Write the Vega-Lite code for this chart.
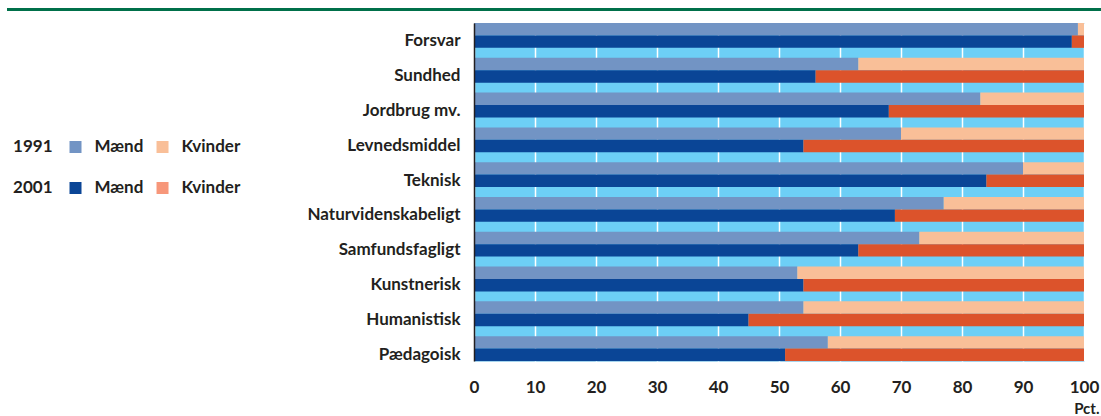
{
  "$schema": "https://vega.github.io/schema/vega-lite/v6.json",
  "padding": {"left": 5, "top": 8, "right": 0, "bottom": 0},
  "background": "white",
  "config": {"view": {"stroke": null}, "font": "Lato"},
  "datasets": {
    "main": [
      {"cat": "Forsvar", "year": "1991", "sex": "Mænd", "key": "1991 Mænd", "pct": 99},
      {"cat": "Forsvar", "year": "1991", "sex": "Kvinder", "key": "1991 Kvinder", "pct": 1},
      {"cat": "Forsvar", "year": "2001", "sex": "Mænd", "key": "2001 Mænd", "pct": 98},
      {"cat": "Forsvar", "year": "2001", "sex": "Kvinder", "key": "2001 Kvinder", "pct": 2},
      {"cat": "Sundhed", "year": "1991", "sex": "Mænd", "key": "1991 Mænd", "pct": 63},
      {"cat": "Sundhed", "year": "1991", "sex": "Kvinder", "key": "1991 Kvinder", "pct": 37},
      {"cat": "Sundhed", "year": "2001", "sex": "Mænd", "key": "2001 Mænd", "pct": 56},
      {"cat": "Sundhed", "year": "2001", "sex": "Kvinder", "key": "2001 Kvinder", "pct": 44},
      {"cat": "Jordbrug mv.", "year": "1991", "sex": "Mænd", "key": "1991 Mænd", "pct": 83},
      {"cat": "Jordbrug mv.", "year": "1991", "sex": "Kvinder", "key": "1991 Kvinder", "pct": 17},
      {"cat": "Jordbrug mv.", "year": "2001", "sex": "Mænd", "key": "2001 Mænd", "pct": 68},
      {"cat": "Jordbrug mv.", "year": "2001", "sex": "Kvinder", "key": "2001 Kvinder", "pct": 32},
      {"cat": "Levnedsmiddel", "year": "1991", "sex": "Mænd", "key": "1991 Mænd", "pct": 70},
      {"cat": "Levnedsmiddel", "year": "1991", "sex": "Kvinder", "key": "1991 Kvinder", "pct": 30},
      {"cat": "Levnedsmiddel", "year": "2001", "sex": "Mænd", "key": "2001 Mænd", "pct": 54},
      {"cat": "Levnedsmiddel", "year": "2001", "sex": "Kvinder", "key": "2001 Kvinder", "pct": 46},
      {"cat": "Teknisk", "year": "1991", "sex": "Mænd", "key": "1991 Mænd", "pct": 90},
      {"cat": "Teknisk", "year": "1991", "sex": "Kvinder", "key": "1991 Kvinder", "pct": 10},
      {"cat": "Teknisk", "year": "2001", "sex": "Mænd", "key": "2001 Mænd", "pct": 84},
      {"cat": "Teknisk", "year": "2001", "sex": "Kvinder", "key": "2001 Kvinder", "pct": 16},
      {"cat": "Naturvidenskabeligt", "year": "1991", "sex": "Mænd", "key": "1991 Mænd", "pct": 77},
      {"cat": "Naturvidenskabeligt", "year": "1991", "sex": "Kvinder", "key": "1991 Kvinder", "pct": 23},
      {"cat": "Naturvidenskabeligt", "year": "2001", "sex": "Mænd", "key": "2001 Mænd", "pct": 69},
      {"cat": "Naturvidenskabeligt", "year": "2001", "sex": "Kvinder", "key": "2001 Kvinder", "pct": 31},
      {"cat": "Samfundsfagligt", "year": "1991", "sex": "Mænd", "key": "1991 Mænd", "pct": 73},
      {"cat": "Samfundsfagligt", "year": "1991", "sex": "Kvinder", "key": "1991 Kvinder", "pct": 27},
      {"cat": "Samfundsfagligt", "year": "2001", "sex": "Mænd", "key": "2001 Mænd", "pct": 63},
      {"cat": "Samfundsfagligt", "year": "2001", "sex": "Kvinder", "key": "2001 Kvinder", "pct": 37},
      {"cat": "Kunstnerisk", "year": "1991", "sex": "Mænd", "key": "1991 Mænd", "pct": 53},
      {"cat": "Kunstnerisk", "year": "1991", "sex": "Kvinder", "key": "1991 Kvinder", "pct": 47},
      {"cat": "Kunstnerisk", "year": "2001", "sex": "Mænd", "key": "2001 Mænd", "pct": 54},
      {"cat": "Kunstnerisk", "year": "2001", "sex": "Kvinder", "key": "2001 Kvinder", "pct": 46},
      {"cat": "Humanistisk", "year": "1991", "sex": "Mænd", "key": "1991 Mænd", "pct": 54},
      {"cat": "Humanistisk", "year": "1991", "sex": "Kvinder", "key": "1991 Kvinder", "pct": 46},
      {"cat": "Humanistisk", "year": "2001", "sex": "Mænd", "key": "2001 Mænd", "pct": 45},
      {"cat": "Humanistisk", "year": "2001", "sex": "Kvinder", "key": "2001 Kvinder", "pct": 55},
      {"cat": "Pædagoisk", "year": "1991", "sex": "Mænd", "key": "1991 Mænd", "pct": 58},
      {"cat": "Pædagoisk", "year": "1991", "sex": "Kvinder", "key": "1991 Kvinder", "pct": 42},
      {"cat": "Pædagoisk", "year": "2001", "sex": "Mænd", "key": "2001 Mænd", "pct": 51},
      {"cat": "Pædagoisk", "year": "2001", "sex": "Kvinder", "key": "2001 Kvinder", "pct": 49}
    ],
    "legend": [
      {"year": "1991", "sex": "Mænd", "key": "1991 Mænd"},
      {"year": "1991", "sex": "Kvinder", "key": "1991 Kvinder"},
      {"year": "2001", "sex": "Mænd", "key": "2001 Mænd"},
      {"year": "2001", "sex": "Kvinder", "key": "2001 Kvinder"}
    ]
  },
  "bounds": "flush",
  "spacing": 12,
  "vconcat": [
    {
      "width": 1096,
      "height": 3,
      "data": {"values": [{"line": "top"}]},
      "mark": {"type": "rule", "color": "#00704a", "strokeWidth": 3},
      "encoding": {
        "y": {"field": "line", "type": "nominal", "axis": null, "scale": {"type": "point", "padding": 0.5}}
      }
    },
    {
      "bounds": "flush",
      "spacing": 207,
      "resolve": {"scale": {"color": "independent"}},
      "hconcat": [
        {
          "width": 260,
          "height": 338,
          "data": {"name": "legend"},
          "encoding": {
            "x": {"field": "sex", "type": "nominal", "sort": ["Mænd", "Kvinder"], "axis": null,
                  "scale": {"type": "point", "padding": 0.994, "align": 0.396}},
            "y": {"field": "year", "type": "nominal", "sort": ["1991", "2001"], "axis": null,
                  "scale": {"type": "point", "padding": 0, "range": [124, 165]}}
          },
          "layer": [
            {
              "mark": {"type": "point", "shape": "square", "filled": true, "size": 144, "opacity": 1},
              "encoding": {
                "color": {"field": "key", "type": "nominal", "legend": null,
                  "scale": {"domain": ["1991 Mænd", "1991 Kvinder", "2001 Mænd", "2001 Kvinder"],
                            "range": ["#7294c4", "#f9bf98", "#0a4596", "#f7977a"]}}
              }
            },
            {
              "mark": {"type": "text", "align": "left", "baseline": "middle", "dx": 19, "font": "Lato", "fontWeight": "bold", "fontSize": 17, "color": "#231f20"},
              "encoding": {"text": {"field": "sex"}}
            },
            {
              "transform": [{"filter": "datum.sex === 'Mænd'"}],
              "mark": {"type": "text", "align": "right", "baseline": "middle", "dx": -23, "font": "Lato", "fontWeight": "bold", "fontSize": 17, "color": "#231f20"},
              "encoding": {"text": {"field": "year"}}
            }
          ]
        },
        {
          "width": 610,
          "height": 338,
          "data": {"name": "main"},
          "view": {"fill": "#6dcff6", "stroke": "#a6d5ee"},
          "mark": {"type": "bar"},
          "encoding": {
            "y": {
              "field": "cat", "type": "nominal",
              "sort": ["Forsvar", "Sundhed", "Jordbrug mv.", "Levnedsmiddel", "Teknisk", "Naturvidenskabeligt", "Samfundsfagligt", "Kunstnerisk", "Humanistisk", "Pædagoisk"],
              "scale": {"paddingInner": 0.286, "paddingOuter": 0},
              "axis": {"title": null, "ticks": false, "domain": true, "domainColor": "#231f20", "domainWidth": 1.5, "zindex": 1,
                       "labelPadding": 14, "labelOffset": 6, "labelFont": "Lato", "labelFontSize": 17, "labelFontWeight": "bold", "labelColor": "#231f20"}
            },
            "yOffset": {"field": "year", "type": "nominal", "sort": ["1991", "2001"], "scale": {"paddingInner": 0, "paddingOuter": 0}},
            "x": {
              "field": "pct", "type": "quantitative", "stack": "zero",
              "scale": {"domain": [0, 100], "nice": false},
              "axis": {"values": [0, 10, 20, 30, 40, 50, 60, 70, 80, 90, 100], "grid": true, "gridColor": "white", "gridWidth": 1.5, "gridOpacity": 1,
                       "ticks": false, "domain": false, "labelPadding": 18, "labelFlush": false, "labelFont": "Lato", "labelFontSize": 17, "labelFontWeight": "bold", "labelColor": "#231f20",
                       "title": "Pct.", "titleAnchor": "end", "titleAlign": "right", "titleBaseline": "middle", "titleX": 625, "titleY": 47,
                       "titleFont": "Lato", "titleFontSize": 15, "titleFontWeight": "bold", "titleColor": "#231f20"}
            },
            "color": {
              "field": "key", "type": "nominal", "legend": null,
              "scale": {"domain": ["1991 Mænd", "1991 Kvinder", "2001 Mænd", "2001 Kvinder"],
                        "range": ["#7294c4", "#f9bf98", "#0a4596", "#dc532b"]}
            },
            "order": {"field": "sex", "sort": "descending"}
          }
        }
      ]
    }
  ]
}
